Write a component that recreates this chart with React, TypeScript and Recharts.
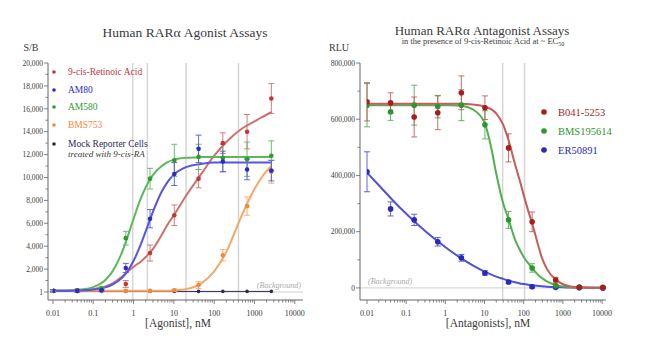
import { ComposedChart, Line, Scatter, ErrorBar, XAxis, YAxis, ReferenceLine } from 'recharts'

const SERIF = '"Liberation Serif", "Times New Roman", serif'
const AXIS = '#666'
const TEXT = '#3a3a3a'

// ---------- Agonist assay (left) ----------
const agonistConc = [0.01, 0.04, 0.16, 0.64, 2.56, 10.24, 41, 164, 655, 2620]
const retinoicPts = [100, 150, 250, 700, 3400, 6700, 9900, 13000, 14000, 16900]
const retinoicErr = [100, 100, 150, 300, 700, 900, 800, 900, 1500, 1300]
const am80Pts = [100, 100, 150, 2100, 6400, 10300, 12500, 11400, 10700, 10600]
const am80Err = [100, 100, 100, 400, 800, 1000, 1200, 900, 900, 900]
const am580Pts = [100, 100, 300, 4700, 9900, 11500, 11800, 11700, 11600, 11900]
const am580Err = [100, 100, 150, 600, 900, 1400, 1100, 1200, 1500, 1300]
const bms753Pts = [100, 100, 100, 100, 100, 150, 600, 3200, 7500, 10500]
const bms753Err = [50, 50, 50, 50, 50, 100, 300, 500, 800, 1000]
const mockPts = [50, 50, 50, 50, 50, 50, 50, 50, 50, 50]

// fitted curves
const agoFitConc = [0.01, 0.02, 0.05, 0.1, 0.2, 0.3, 0.5, 0.7, 1, 1.5, 2, 3, 5, 7, 10, 20, 50, 100, 200, 500, 1000, 1500, 2620]
const retinoicFit = [100, 110, 150, 250, 480, 750, 1300, 1750, 2200, 2650, 3050, 3750, 5000, 5900, 6700, 8400, 10400, 11900, 13100, 14300, 14900, 15250, 15700]
const am80Fit = [100, 110, 140, 210, 400, 640, 1190, 1800, 2730, 4130, 5300, 6980, 8770, 9620, 10250, 10900, 11200, 11300, 11300, 11300, 11300, 11300, 11300]
const am580Fit = [100, 110, 210, 430, 1050, 1800, 3350, 4750, 6400, 8150, 9150, 10200, 11000, 11350, 11550, 11720, 11780, 11800, 11800, 11800, 11800, 11800, 11800]
const bms753Fit = [100, 100, 100, 100, 100, 100, 100, 100, 100, 100, 100, 100, 100, 110, 140, 250, 800, 1800, 3500, 6800, 9000, 10000, 11000]

const agoEc50 = [0.95, 2.2, 20, 400]
const agoYMajor = [1, 2000, 4000, 6000, 8000, 10000, 12000, 14000, 16000, 18000, 20000]
const agoYMinor = [1000, 3000, 5000, 7000, 9000, 11000, 13000, 15000, 17000, 19000]

// ---------- Antagonist assay (right) ----------
const antConc = [0.01, 0.04, 0.16, 0.64, 2.56, 10.24, 41, 164, 655, 2620, 10486]
const b041Pts = [662000, 658000, 608000, 623000, 694000, 641000, 498000, 235000, 28000, 2000, 1000]
const b041Err = [68000, 36000, 71000, 60000, 60000, 42000, 50000, 35000, 10000, 3000, 3000]
const bms195Pts = [650000, 626000, 650000, 645000, 650000, 580000, 242000, 71000, 8000, 3000, 2000]
const bms195Err = [77000, 30000, 71000, 40000, 55000, 50000, 30000, 15000, 5000, 3000, 3000]
const er508Pts = [413000, 281000, 242000, 164000, 107000, 53000, 21000, 4000, 2000, 1000, 0]
const er508Err = [71000, 25000, 20000, 15000, 12000, 8000, 6000, 4000, 3000, 2000, 2000]

const antFitConc = [0.01, 0.02, 0.04, 0.08, 0.16, 0.32, 0.64, 1.28, 2.56, 5, 10, 15, 20, 30, 41, 60, 80, 100, 130, 164, 220, 290, 400, 655, 1000, 1600, 2620, 5000, 10486]
const b041Fit = [655000, 655000, 655000, 655000, 655000, 655000, 655000, 655000, 655000, 652000, 645000, 635000, 620000, 580000, 525000, 440000, 380000, 330000, 275000, 230000, 165000, 108000, 65000, 30000, 13000, 5000, 2000, 1000, 0]
const bms195Fit = [650000, 650000, 650000, 650000, 650000, 650000, 650000, 650000, 648000, 635000, 588000, 495000, 405000, 300000, 245000, 172000, 135000, 110000, 88000, 70000, 50000, 35000, 22000, 10000, 5000, 2500, 1500, 800, 500]
const er508Fit = [410000, 365000, 320000, 277000, 237000, 200000, 166000, 134000, 105000, 80000, 58000, 47000, 40000, 32000, 26000, 20000, 16000, 14000, 11500, 9500, 7500, 6000, 4500, 3000, 2000, 1200, 800, 400, 200]

const antIc50 = [29, 105]
const antYMajor = [0, 200000, 400000, 600000, 800000]
const antYMinor = [100000, 300000, 500000, 700000]

const decadeTicks = [0.01, 0.1, 1, 10, 100, 1000, 10000]
const minorTicks = decadeTicks.slice(0, -1).flatMap((d) => [2, 3, 4, 5, 6, 7, 8, 9].map((k) => +(d * k).toPrecision(3)))
const xTicks = [...decadeTicks, ...minorTicks].sort((a, b) => a - b)

const pts = (xs: number[], ys: number[], errs?: number[]) =>
  xs.map((x, i) => ({ x, y: ys[i], err: errs ? errs[i] : 0 }))

function LogTick(props: any) {
  const { x, y, payload } = props
  const major = decadeTicks.includes(payload.value)
  return (
    <g>
      <line x1={x} x2={x} y1={y} y2={y + (major ? 4 : 2.5)} stroke={AXIS} strokeWidth={0.8} />
      {major && (
        <text x={x} y={y + 15.5} textAnchor="middle" fontSize={8} fontFamily={SERIF} fill={TEXT}>
          {payload.value < 1 ? String(payload.value) : String(Math.round(payload.value))}
        </text>
      )}
    </g>
  )
}

const makeYTick = (majors: number[]) => (props: any) => {
  const { x, y, payload } = props
  const major = majors.includes(payload.value)
  return (
    <g>
      <line x1={x - (major ? 4 : 2.5)} x2={x} y1={y} y2={y} stroke={AXIS} strokeWidth={0.8} />
      {major && (
        <text x={x - 5} y={y + 2.8} textAnchor="end" fontSize={7.5} fontFamily={SERIF} fill={TEXT}>
          {payload.value.toLocaleString('en-US')}
        </text>
      )}
    </g>
  )
}

const dotShape = (fill: string, r = 2.5) => (p: any) => <circle cx={p.cx} cy={p.cy} r={r} fill={fill} />

function PointSeries({ data, color }: { data: { x: number; y: number; err: number }[]; color: string }) {
  return null
}

const bgLabel = (props: any) => {
  const { viewBox, side } = props
  return null
}

function AgonistChart() {
  const series = [
    { pts: pts(agonistConc, bms753Pts, bms753Err), fit: pts(agoFitConc, bms753Fit), line: '#f5a868', dot: '#ef8a3a' },
    { pts: pts(agonistConc, retinoicPts, retinoicErr), fit: pts(agoFitConc, retinoicFit), line: '#cc7070', dot: '#c03838' },
    { pts: pts(agonistConc, am580Pts, am580Err), fit: pts(agoFitConc, am580Fit), line: '#5cb85c', dot: '#2f9a2f' },
    { pts: pts(agonistConc, am80Pts, am80Err), fit: pts(agoFitConc, am80Fit), line: '#5555e0', dot: '#2a2ac8' },
  ]
  return (
    <ComposedChart width={325} height={353} margin={{ top: 63, right: 22, bottom: 23, left: 0 }}>
      <XAxis
        dataKey="x"
        type="number"
        scale="log"
        domain={[0.01, 16000]}
        allowDataOverflow
        ticks={xTicks}
        interval={0}
        tick={LogTick}
        tickLine={false}
        tickSize={0}
        tickMargin={0}
        height={30}
        padding={{ left: 5 }}
        stroke={AXIS}
      />
      <YAxis
        type="number"
        domain={[-700, 20000]}
        allowDataOverflow
        ticks={[...agoYMajor, ...agoYMinor].sort((a, b) => a - b)}
        interval={0}
        tick={makeYTick(agoYMajor)}
        tickLine={false}
        tickSize={0}
        tickMargin={0}
        width={48}
        stroke={AXIS}
      />
      {agoEc50.map((v) => (
        <ReferenceLine key={v} x={v} stroke="#d6d6d6" strokeWidth={1.5} />
      ))}
      <ReferenceLine
        y={1}
        stroke="#cfcfcf"
        strokeWidth={1}
        label={(p: any) => (
          <text x={p.viewBox.x + p.viewBox.width - 2} y={p.viewBox.y - 4} textAnchor="end" fontSize={8} fontStyle="italic" fontFamily={SERIF} fill="#aaa">
            (Background)
          </text>
        )}
      />
      <Line data={pts(agonistConc, mockPts)} dataKey="y" stroke="#2b2b55" strokeWidth={1} dot={{ r: 1.8, fill: '#2b2b55', stroke: 'none' }} isAnimationActive={false} />
      {series.map((s, i) => (
        <Line key={'f' + i} data={s.fit} dataKey="y" type="monotone" stroke={s.line} strokeWidth={2} dot={false} isAnimationActive={false} />
      ))}
      {series.map((s, i) => (
        <Scatter key={'p' + i} data={s.pts} dataKey="y" shape={dotShape(s.dot, 2.3)} isAnimationActive={false}>
          <ErrorBar dataKey="err" direction="y" width={3} stroke={s.line} strokeWidth={0.9} />
        </Scatter>
      ))}
    </ComposedChart>
  )
}

function AntagonistChart() {
  const series = [
    { pts: pts(antConc, er508Pts, er508Err), fit: pts(antFitConc, er508Fit), line: '#5050d8', dot: '#2828c0' },
    { pts: pts(antConc, bms195Pts, bms195Err), fit: pts(antFitConc, bms195Fit), line: '#52b052', dot: '#2f962f' },
    { pts: pts(antConc, b041Pts, b041Err), fit: pts(antFitConc, b041Fit), line: '#c65c5c', dot: '#a81c1c' },
  ]
  return (
    <ComposedChart width={325} height={353} margin={{ top: 63, right: 44, bottom: 23, left: 0 }}>
      <XAxis
        dataKey="x"
        type="number"
        scale="log"
        domain={[0.01, 12600]}
        allowDataOverflow
        ticks={xTicks}
        interval={0}
        tick={LogTick}
        tickLine={false}
        tickSize={0}
        tickMargin={0}
        height={30}
        padding={{ left: 7 }}
        stroke={AXIS}
      />
      <YAxis
        type="number"
        domain={[-43000, 800000]}
        allowDataOverflow
        ticks={[...antYMajor, ...antYMinor].sort((a, b) => a - b)}
        interval={0}
        tick={makeYTick(antYMajor)}
        tickLine={false}
        tickSize={0}
        tickMargin={0}
        width={35}
        stroke={AXIS}
      />
      {antIc50.map((v) => (
        <ReferenceLine key={v} x={v} stroke="#d6d6d6" strokeWidth={1.5} />
      ))}
      <ReferenceLine
        y={0}
        stroke="#cfcfcf"
        strokeWidth={1}
        label={(p: any) => (
          <text x={p.viewBox.x + 8} y={p.viewBox.y - 4} textAnchor="start" fontSize={8} fontStyle="italic" fontFamily={SERIF} fill="#aaa">
            (Background)
          </text>
        )}
      />
      {series.map((s, i) => (
        <Line key={'f' + i} data={s.fit} dataKey="y" type="monotone" stroke={s.line} strokeWidth={2} dot={false} isAnimationActive={false} />
      ))}
      {series.map((s, i) => (
        <Scatter key={'p' + i} data={s.pts} dataKey="y" shape={dotShape(s.dot, 2.8)} isAnimationActive={false}>
          <ErrorBar dataKey="err" direction="y" width={3} stroke={s.line} strokeWidth={0.9} />
        </Scatter>
      ))}
    </ComposedChart>
  )
}

const agoLegend = [
  { name: '9-cis-Retinoic Acid', color: '#c03838', y: 72 },
  { name: 'AM80', color: '#2a2ac8', y: 90 },
  { name: 'AM580', color: '#2f9a2f', y: 107 },
  { name: 'BMS753', color: '#ef8a3a', y: 125 },
  { name: 'Mock Reporter Cells', color: '#2b2b55', y: 144 },
]

const antLegend = [
  { name: 'B041-5253', color: '#a81c1c', y: 112 },
  { name: 'BMS195614', color: '#2f962f', y: 131 },
  { name: 'ER50891', color: '#2828c0', y: 150 },
]

export default function App() {
  return (
    <div style={{ position: 'absolute', left: 0, top: 0, width: 650, height: 353, background: '#fff', fontFamily: SERIF }}>
      <div style={{ position: 'absolute', left: 0, top: 0 }}>
        <AgonistChart />
      </div>
      <div style={{ position: 'absolute', left: 325, top: 0 }}>
        <AntagonistChart />
      </div>
      {/* titles, axis labels and legends */}
      <svg width={650} height={353} style={{ position: 'absolute', left: 0, top: 0, pointerEvents: 'none' }} fontFamily={SERIF}>
        <text x={185} y={36.5} textAnchor="middle" fontSize={13.5} fill={TEXT}>Human RARα Agonist Assays</text>
        <text x={31} y={50.5} textAnchor="middle" fontSize={10} fill={TEXT}>S/B</text>
        <text x={178} y={327} textAnchor="middle" fontSize={11.5} fill={TEXT}>[Agonist], nM</text>

        <text x={482} y={34.5} textAnchor="middle" fontSize={13} fill={TEXT}>Human RARα Antagonist Assays</text>
        <text x={483} y={44} textAnchor="middle" fontSize={8.5} fill={TEXT}>
          in the presence of 9-cis-Retinoic Acid at ~ EC<tspan fontSize={6} dy={2}>50</tspan>
        </text>
        <text x={339} y={50.5} textAnchor="middle" fontSize={10} fill={TEXT}>RLU</text>
        <text x={488} y={327} textAnchor="middle" fontSize={11.5} fill={TEXT}>[Antagonists], nM</text>

        {agoLegend.map((l) => (
          <g key={l.name}>
            <circle cx={54} cy={l.y} r={1.8} fill={l.color} />
            <text x={68} y={l.y + 3.3} fontSize={9.5} fill={l.color}>{l.name}</text>
          </g>
        ))}
        <text x={68} y={156.5} fontSize={9} fontStyle="italic" fill={TEXT}>treated with 9-cis-RA</text>

        {antLegend.map((l) => (
          <g key={l.name}>
            <circle cx={544} cy={l.y} r={2.8} fill={l.color} />
            <text x={558} y={l.y + 3.6} fontSize={10.5} fill={l.color}>{l.name}</text>
          </g>
        ))}
      </svg>
    </div>
  )
}
